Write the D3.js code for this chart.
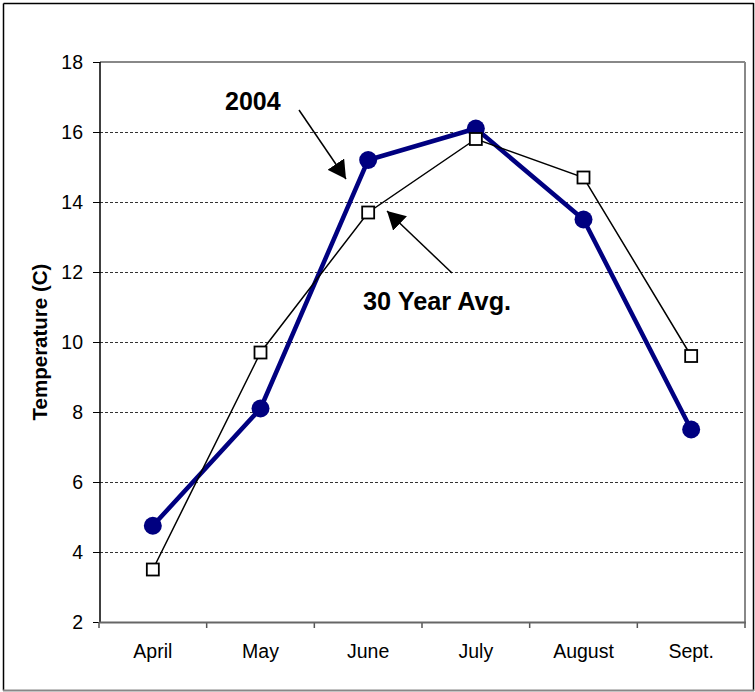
<!DOCTYPE html>
<html>
<head>
<meta charset="utf-8">
<script src="https://cdn.jsdelivr.net/npm/d3@7/dist/d3.min.js"></script>
<style>
  html, body { margin: 0; padding: 0; background: #fff; }
  svg { display: block; font-family: Arial, "Liberation Sans", sans-serif; }
</style>
</head>
<body>
<svg id="chart" width="755" height="692"></svg>
<script>
// ---- data ----
const months = ["April", "May", "June", "July", "August", "Sept."];
const temps2004 = [4.75, 8.1, 15.2, 16.1, 13.5, 7.5];
const temps30yr = [3.5, 9.7, 13.7, 15.8, 14.7, 9.6];
const yTicks = [2, 4, 6, 8, 10, 12, 14, 16, 18];
const yTitle = "Temperature (C)";
const label2004 = "2004";
const label30yr = "30 Year Avg.";

// ---- layout ----
const svg = d3.select("#chart");
const pL = 100, pR = 745, pT = 62, pB = 622;

const x = d3.scaleBand().domain(months).range([pL - 1, pR]).paddingInner(0).paddingOuter(0);
const xc = d => x(d) + x.bandwidth() / 2;
const y = d3.scaleLinear().domain([2, 18]).range([pB, pT]);

// outer frame
svg.append("line").attr("x1", 3.5).attr("y1", 3.5).attr("x2", 753.5).attr("y2", 3.5).attr("stroke", "#000").attr("stroke-width", 1.5);
svg.append("line").attr("x1", 3.5).attr("y1", 3.5).attr("x2", 3.5).attr("y2", 690.5).attr("stroke", "#000").attr("stroke-width", 1.5);
svg.append("line").attr("x1", 753.5).attr("y1", 3).attr("x2", 753.5).attr("y2", 691).attr("stroke", "#000").attr("stroke-width", 1.5);
svg.append("line").attr("x1", 3).attr("y1", 690.5).attr("x2", 754).attr("y2", 690.5).attr("stroke", "#888").attr("stroke-width", 2);

// gridlines
svg.append("g").selectAll("line")
  .data(yTicks.filter(t => t > 2 && t < 18))
  .join("line")
  .attr("x1", pL).attr("x2", pR)
  .attr("y1", d => y(d) + 0.5).attr("y2", d => y(d) + 0.5)
  .attr("stroke", "#333").attr("stroke-width", 1)
  .attr("stroke-dasharray", "3,2");

// plot area top & right border (gray)
svg.append("line").attr("x1", pL).attr("x2", pR).attr("y1", y(18)).attr("y2", y(18))
  .attr("stroke", "#888").attr("stroke-width", 2);
svg.append("line").attr("x1", pR).attr("x2", pR).attr("y1", y(18)).attr("y2", pB)
  .attr("stroke", "#888").attr("stroke-width", 2);

// y axis
const yAxis = svg.append("g")
  .attr("transform", `translate(${pL},0)`)
  .call(d3.axisLeft(y).tickValues(yTicks).tickSize(7).tickPadding(10).tickFormat(d3.format("d")));
yAxis.select(".domain").remove();
yAxis.selectAll(".tick line").attr("stroke", "#000").attr("stroke-width", 1);
yAxis.selectAll("text").attr("font-size", "19.5px").attr("fill", "#000").attr("font-family", "Arial, 'Liberation Sans', sans-serif");
svg.append("line").attr("x1", pL).attr("x2", pL).attr("y1", pT).attr("y2", pB + 1)
  .attr("stroke", "#000").attr("stroke-width", 1.5);

// x axis
const xAxis = svg.append("g")
  .attr("transform", `translate(0,${pB})`)
  .call(d3.axisBottom(x).tickSize(0).tickPadding(22));
xAxis.select(".domain").remove();
xAxis.selectAll("text").attr("font-size", "19.5px").attr("fill", "#000").attr("font-family", "Arial, 'Liberation Sans', sans-serif");
// boundary ticks between categories
svg.append("g").selectAll("line")
  .data(months.map(m => x(m)).concat([x(months[months.length - 1]) + x.bandwidth()]))
  .join("line")
  .attr("x1", d => d).attr("x2", d => d)
  .attr("y1", pB).attr("y2", pB + 6)
  .attr("stroke", "#555").attr("stroke-width", 1.5);
svg.append("line").attr("x1", pL - 1).attr("x2", pR + 1).attr("y1", pB + 0.5).attr("y2", pB + 0.5)
  .attr("stroke", "#666").attr("stroke-width", 2);

// y title
svg.append("text")
  .attr("transform", `translate(47,${(pT + pB) / 2}) rotate(-90)`)
  .attr("text-anchor", "middle")
  .attr("font-size", "20.5px").attr("font-weight", "bold")
  .text(yTitle);

// ---- series ----
const line = d3.line().x((d, i) => xc(months[i])).y(d => y(d));

svg.append("path").datum(temps2004)
  .attr("d", line).attr("fill", "none").attr("stroke", "#000080").attr("stroke-width", 4.5)
  .attr("stroke-linejoin", "round");
svg.append("g").selectAll("circle").data(temps2004).join("circle")
  .attr("cx", (d, i) => xc(months[i])).attr("cy", d => y(d)).attr("r", 9)
  .attr("fill", "#000080");

svg.append("path").datum(temps30yr)
  .attr("d", line).attr("fill", "none").attr("stroke", "#000").attr("stroke-width", 1.5);
const sq = 12;
svg.append("g").selectAll("rect").data(temps30yr).join("rect")
  .attr("x", (d, i) => xc(months[i]) - sq / 2).attr("y", d => y(d) - sq / 2)
  .attr("width", sq).attr("height", sq)
  .attr("fill", "#fff").attr("stroke", "#000").attr("stroke-width", 1.8);

// ---- annotations ----
const defs = svg.append("defs");
defs.append("marker").attr("id", "arrow")
  .attr("viewBox", "0 0 18 20").attr("refX", 18).attr("refY", 10)
  .attr("markerWidth", 18).attr("markerHeight", 20)
  .attr("markerUnits", "userSpaceOnUse").attr("orient", "auto")
  .append("path").attr("d", "M0,0 L18,10 L0,20 Z").attr("fill", "#000");

svg.append("text").attr("x", 225).attr("y", 110)
  .attr("font-size", "25px").attr("font-weight", "bold").text(label2004);
svg.append("line").attr("x1", 299).attr("y1", 110).attr("x2", 346).attr("y2", 179)
  .attr("stroke", "#000").attr("stroke-width", 1.5).attr("marker-end", "url(#arrow)");

svg.append("text").attr("x", 363).attr("y", 310)
  .attr("font-size", "25.3px").attr("font-weight", "bold").text(label30yr);
svg.append("line").attr("x1", 452).attr("y1", 273).attr("x2", 387).attr("y2", 211)
  .attr("stroke", "#000").attr("stroke-width", 1.5).attr("marker-end", "url(#arrow)");
</script>
</body>
</html>
